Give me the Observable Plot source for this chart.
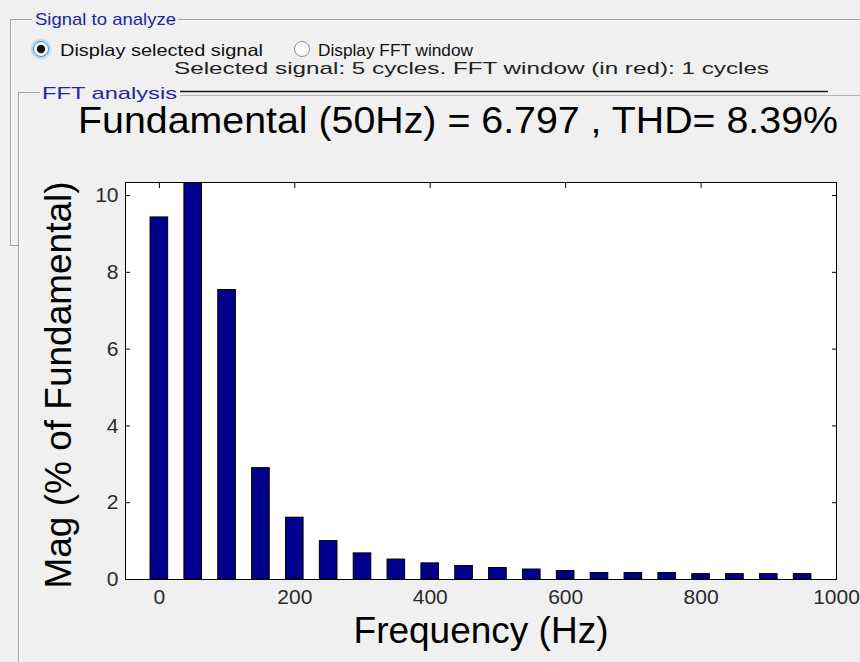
<!DOCTYPE html>
<html>
<head>
<meta charset="utf-8">
<script src="https://cdn.jsdelivr.net/npm/d3@7"></script>
<script src="https://cdn.jsdelivr.net/npm/@observablehq/plot@0.6"></script>
<style>
  html, body { margin: 0; padding: 0; }
  body { width: 860px; height: 662px; overflow: hidden; background: #f0f0f0; position: relative; }
  #chrome, #chart { position: absolute; left: 0; top: 0; }
</style>
</head>
<body>
<div id="chrome"></div>
<div id="chart"></div>
<script>
// ---- data ----
const frequencies = [0, 50, 100, 150, 200, 250, 300, 350, 400, 450, 500, 550, 600, 650, 700, 750, 800, 850, 900, 950];
const magnitudes  = [9.43, 100, 7.54, 2.90, 1.61, 1.00, 0.68, 0.52, 0.42, 0.35, 0.30, 0.26, 0.22, 0.17, 0.17, 0.17, 0.14, 0.14, 0.14, 0.14];
const xTicks = [0, 200, 400, 600, 800, 1000];
const yTicks = [0, 2, 4, 6, 8, 10];
const titleText = "Fundamental (50Hz) = 6.797 , THD= 8.39%";
const xLabelText = "Frequency (Hz)";
const yLabelText = "Mag (% of Fundamental)";
const groupTitle1 = "Signal to analyze";
const groupTitle2 = "FFT analysis";
const radioLabels = ["Display selected signal", "Display FFT window"];
const infoText = "Selected signal: 5 cycles. FFT window (in red): 1 cycles";

const table = frequencies.map((f, i) => ({f, mag: magnitudes[i]}));
const halfWidth = 13;

// ---- window chrome (UI panel) ----
const W = 860, H = 662;
const svg = d3.select("#chrome").append("svg").attr("width", W).attr("height", H)
  .style("font-family", "'Liberation Sans', Arial, sans-serif");
const line = (x1, y1, x2, y2, c, w = 1) => svg.append("line")
  .attr("x1", x1).attr("y1", y1).attr("x2", x2).attr("y2", y2)
  .attr("stroke", c).attr("stroke-width", w);
// outer group box
line(10, 19.5, 32, 19.5, "#a0a0a0"); line(178, 19.5, W, 19.5, "#a0a0a0");
line(10, 20.5, 32, 20.5, "#ffffff"); line(178, 20.5, W, 20.5, "#ffffff");
line(10.5, 19, 10.5, 246, "#a0a0a0"); line(11.5, 20, 11.5, 245, "#ffffff");
line(10, 245.5, 18, 245.5, "#a0a0a0");
svg.append("text").attr("x", 35).attr("y", 25).attr("font-size", 17).attr("fill", "#2424a4")
  .attr("textLength", 141).attr("lengthAdjust", "spacingAndGlyphs").text(groupTitle1);
// radio buttons
const radio = (cx, cy, checked) => {
  if (checked) svg.append("circle").attr("cx", cx).attr("cy", cy).attr("r", 9)
    .attr("fill", "none").attr("stroke", "#b9def6").attr("stroke-width", 2.5);
  svg.append("circle").attr("cx", cx).attr("cy", cy).attr("r", 7.5)
    .attr("fill", "#fdfdfd").attr("stroke", checked ? "#4c86c0" : "#8c8c8c").attr("stroke-width", 1);
  if (checked) svg.append("circle").attr("cx", cx).attr("cy", cy).attr("r", 4.2).attr("fill", "#151515");
};
radio(41, 49, true);
radio(302, 49, false);
svg.append("text").attr("x", 60).attr("y", 56).attr("font-size", 16.5).attr("fill", "#111")
  .attr("textLength", 203).attr("lengthAdjust", "spacingAndGlyphs").text(radioLabels[0]);
svg.append("text").attr("x", 318).attr("y", 56).attr("font-size", 16.5).attr("fill", "#111")
  .attr("textLength", 155).attr("lengthAdjust", "spacingAndGlyphs").text(radioLabels[1]);
svg.append("text").attr("x", 174).attr("y", 74).attr("font-size", 17).attr("fill", "#222")
  .attr("textLength", 595).attr("lengthAdjust", "spacingAndGlyphs").text(infoText);
// FFT analysis group box
line(18, 92.5, 40, 92.5, "#a0a0a0");
line(180, 95.5, W, 95.5, "#b4b4b4");
line(180, 91.5, 828, 91.5, "#1a1a1a", 1.6);
line(18.5, 92, 18.5, H, "#a0a0a0"); line(19.5, 93, 19.5, H, "#ffffff");
svg.append("text").attr("x", 42).attr("y", 99).attr("font-size", 17).attr("fill", "#2424a4")
  .attr("textLength", 135).attr("lengthAdjust", "spacingAndGlyphs").text(groupTitle2);
// axes title
svg.append("text").attr("x", 78).attr("y", 133).attr("font-size", 37).attr("fill", "#000")
  .attr("textLength", 760).attr("lengthAdjust", "spacingAndGlyphs").text(titleText);

// ---- chart ----
const chart = Plot.plot({
  width: W, height: H,
  marginLeft: 125, marginRight: 24, marginTop: 182, marginBottom: 83,
  style: {background: "transparent", fontFamily: "'Liberation Sans', Arial, sans-serif", overflow: "visible"},
  x: {domain: [-50, 1000]},
  y: {domain: [0, 10.34]},
  marks: [
    Plot.frame({fill: "#ffffff"}),
    Plot.rectY(table, {x1: d => d.f - halfWidth, x2: d => d.f + halfWidth, y1: 0, y2: "mag",
      fill: "#00008c", stroke: "#000000", strokeWidth: 1, clip: true}),
    Plot.axisX(xTicks, {anchor: "bottom", tickSize: -5, tickPadding: 15, fontSize: 21,
      tickFormat: d => String(d), fill: "#2a2a2a", label: null}),
    Plot.axisX(xTicks, {anchor: "top", tickSize: -5, tickFormat: () => "", label: null}),
    Plot.axisY(yTicks, {anchor: "left", tickSize: -5, tickPadding: 12, fontSize: 21,
      tickFormat: d => String(d), fill: "#2a2a2a", label: null}),
    Plot.axisY(yTicks, {anchor: "right", tickSize: -5, tickFormat: () => "", label: null}),
    Plot.frame({stroke: "#000000", strokeWidth: 1}),
    Plot.text([xLabelText], {text: d => d, frameAnchor: "bottom", dy: 52, fontSize: 37,
      lineAnchor: "middle", textAnchor: "middle", fill: "#000", ariaLabel: "x-label"}),
    Plot.text([yLabelText], {text: d => d, frameAnchor: "left", dx: -66, dy: 4, rotate: -90, fontSize: 37,
      lineAnchor: "middle", textAnchor: "middle", fill: "#000", ariaLabel: "y-label"})
  ]
});
// stretch the axis labels to the widths seen in the reference
d3.select(chart).select('g[aria-label="x-label"] text')
  .attr("textLength", 284).attr("lengthAdjust", "spacingAndGlyphs");
d3.select(chart).select('g[aria-label="y-label"] text')
  .attr("textLength", 412).attr("lengthAdjust", "spacingAndGlyphs");
document.getElementById("chart").appendChild(chart);
</script>
</body>
</html>
